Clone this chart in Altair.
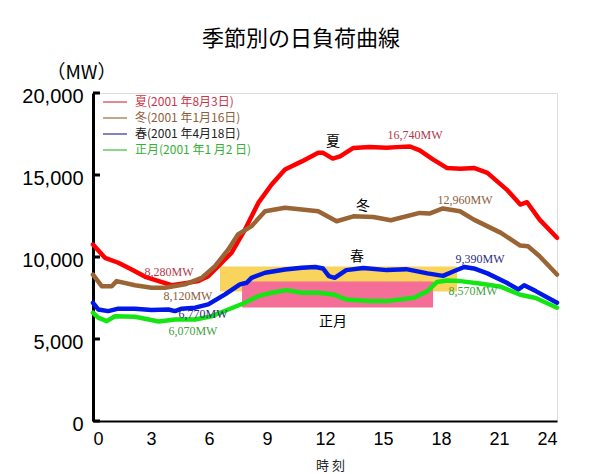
import altair as alt
import pandas as pd

# ---- data ----
summer_h = [0, 0.62, 1.31, 2.0, 2.7, 3.4, 4.07, 4.76, 5.45, 5.96, 6.48, 7.17, 7.86, 8.55, 9.24, 9.93,
            10.8, 11.65, 11.9, 12.4, 12.78, 13.47, 14.3, 15.2, 15.7, 16.4, 16.9, 17.6, 18.3, 19.0, 19.7,
            20.4, 21.4, 22.1, 22.45, 23.1, 24]
summer_mw = [10760, 9950, 9650, 9240, 8790, 8530, 8280, 8400, 8530, 8830, 9440, 10260, 11670, 13300, 14420, 15330,
             15830, 16350, 16350, 16000, 16140, 16650, 16700, 16660, 16700, 16740, 16500, 15940, 15430, 15380, 15430,
             15130, 14110, 13200, 13340, 12280, 11170]

winter_h = [0, 0.45, 0.97, 1.22, 2.17, 3.03, 3.72, 4.76, 5.62, 6.31, 7.0, 7.5, 8.2, 8.9, 9.93, 10.8,
            11.65, 12.1, 12.6, 13.47, 14.5, 15.4, 16.9, 17.4, 18.1, 18.98, 19.7, 21.1, 22.1, 22.5, 23.1, 24]
winter_mw = [8930, 8220, 8220, 8530, 8280, 8120, 8120, 8330, 8730, 9440, 10460, 11370, 11880, 12790, 13000, 12890,
             12790, 12500, 12180, 12480, 12440, 12240, 12690, 12650, 12960, 12790, 12280, 11470, 10700, 10660, 10050, 8930]

spring_h = [0, 0.27, 0.79, 1.31, 2.17, 3.03, 3.9, 4.24, 4.59, 5.28, 5.96, 6.83, 7.6, 7.95, 8.2, 8.9, 9.93,
            10.8, 11.5, 11.9, 12.2, 12.5, 13.1, 13.98, 15.2, 16.2, 17.3, 18.1, 18.6, 19.2, 19.7, 20.4,
            21.4, 22.0, 22.3, 22.9, 24]
spring_mw = [7210, 6800, 6700, 6850, 6850, 6770, 6800, 6700, 6850, 6910, 7110, 7720, 8330, 8430, 8730, 9040, 9240,
             9340, 9390, 9300, 8830, 8730, 9200, 9330, 9200, 9260, 9000, 8850, 9100, 9390, 9300, 9000,
             8430, 8020, 8280, 7920, 7210]

newyear_h = [0, 0.27, 0.71, 1.14, 2.17, 3.4, 4.24, 5.28, 6.14, 7.0, 7.86, 8.55, 9.24, 10.0, 10.8, 11.65,
             12.43, 13.1, 14.3, 15.2, 16.6, 17.3, 17.8, 18.3, 19.0, 20.0, 21.1, 22.1, 22.9, 24]
newyear_mw = [6600, 6300, 6090, 6390, 6360, 6070, 6190, 6190, 6390, 6800, 7210, 7610, 7820, 7980, 7820, 7820,
              7720, 7410, 7310, 7310, 7510, 7920, 8480, 8570, 8530, 8380, 8180, 7700, 7500, 6910]

season_keys = ["夏", "冬", "春", "正月"]
legend_labels = ["夏(2001 年8月3日)", "冬(2001 年1月16日)", "春(2001 年4月18日)", "正月(2001 年1 月2 日)"]
line_colors = ["#FF0000", "#9A6434", "#0018E8", "#14E614"]
legend_line_colors = ["#D03A4A", "#9A6A40", "#30309A", "#3CC03C"]
legend_text_colors = ["#C8364A", "#8E5E3A", "#222222", "#34B034"]

# band rectangles (hours, MW)
band_x = [6.57, 7.71]
band_x2 = [18.83, 17.59]
band_y = [7900, 6920]
band_y2 = [9420, 8510]
band_colors = ["#F8D45C", "#F46E98"]

# value annotations
ann_text = ["8,280MW", "8,120MW", "6,770MW", "6,070MW", "16,740MW", "12,960MW", "9,390MW", "8,570MW"]
ann_h = [3.93, 4.91, 5.69, 5.17, 16.66, 19.24, 20.02, 19.66]
ann_mw = [9055, 7594, 6498, 5463, 17460, 13500, 9850, 7900]
ann_colors = ["#B03A4C", "#8A6040", "#2E2E80", "#3FA03F", "#B03A4C", "#8A6040", "#2E2E80", "#3FA03F"]

season_label = ["夏", "冬", "春", "正月"]
season_label_h = [12.42, 13.97, 13.66, 12.42]
season_label_mw = [17030, 13080, 9970, 6010]

y_ticks = [0, 5000, 10000, 15000, 20000]
x_ticks = [0, 3, 6, 9, 12, 15, 18, 21, 24]

# ---- build tables ----
rows = []
for key, hs, vs in zip(season_keys, [summer_h, winter_h, spring_h, newyear_h],
                       [summer_mw, winter_mw, spring_mw, newyear_mw]):
    for h, v in zip(hs, vs):
        rows.append({"season": key, "hour": h, "mw": v})
lines_df = pd.DataFrame(rows)

bands_df = pd.DataFrame({"x": band_x, "x2": band_x2, "y": band_y, "y2": band_y2, "c": band_colors})
ann_df = pd.DataFrame({"t": ann_text, "h": ann_h, "mw": ann_mw, "c": ann_colors})
lab_df = pd.DataFrame({"t": season_label, "h": season_label_h, "mw": season_label_mw})
tick_df = pd.DataFrame({"y": y_ticks, "x": [0] * len(y_ticks), "x2": [0.36] * len(y_ticks)})

x_scale = alt.Scale(domain=[0, 24], nice=False, zero=False)
y_scale = alt.Scale(domain=[0, 20000], nice=False)

x_axis = alt.Axis(values=x_ticks, ticks=False, grid=False, domainColor="black", domainWidth=2,
                  labelFontSize=18, labelFont="Liberation Sans", labelColor="black", labelPadding=9,
                  title="時 刻", titleFont="Noto Sans CJK JP", titleFontSize=13, titleFontWeight="normal",
                  titleColor="#222", titleX=237, titleY=44, titleBaseline="middle")
y_axis = alt.Axis(values=y_ticks, ticks=False, grid=False, domainColor="black", domainWidth=3,
                  labelExpr="datum.value == 0 ? '0' : floor(datum.value / 1000) + ',000'",
                  labelFontSize=20, labelFont="Liberation Sans", labelColor="black", labelPadding=10,
                  labelOffset=3,
                  title="（MW）", titleAngle=0, titleX=-12, titleY=-21, titleAlign="center",
                  titleBaseline="middle", titleFont="Noto Sans CJK JP", titleFontSize=19,
                  titleFontWeight="normal", titleColor="black")

bx = lambda f: alt.X(f, scale=x_scale, axis=x_axis)
by = lambda f: alt.Y(f, scale=y_scale, axis=y_axis)

bands = alt.Chart(bands_df).mark_rect().encode(
    x=bx("x:Q"), x2="x2:Q", y=by("y:Q"), y2="y2:Q",
    fill=alt.Fill("c:N", scale=None),
)

lines = alt.Chart(lines_df).mark_line(strokeWidth=4.5, strokeJoin="round", strokeCap="round").encode(
    x=bx("hour:Q"), y=by("mw:Q"),
    color=alt.Color("season:N", scale=alt.Scale(domain=season_keys, range=line_colors), legend=None),
    order=alt.Order("hour:Q"),
)

ticks = alt.Chart(tick_df).mark_rule(color="black", strokeWidth=3).encode(
    x=bx("x:Q"), x2="x2:Q", y=by("y:Q")
)

anns = alt.Chart(ann_df).mark_text(font="Liberation Serif", fontSize=12).encode(
    x=bx("h:Q"), y=by("mw:Q"), text="t:N",
    fill=alt.Fill("c:N", scale=None),
)

labs = alt.Chart(lab_df).mark_text(font="Noto Sans CJK JP", fontSize=14, color="black").encode(
    x=bx("h:Q"), y=by("mw:Q"), text="t:N",
)

one = pd.DataFrame({"a": [0]})
legend_layers = []
for i, (lab, lc, tc) in enumerate(zip(legend_labels, legend_line_colors, legend_text_colors)):
    yy = 9 + 16 * i
    legend_layers.append(
        alt.Chart(one).mark_rule(color=lc, strokeWidth=1.2).encode(
            x=alt.value(10), x2=alt.value(34), y=alt.value(yy))
    )
    legend_layers.append(
        alt.Chart(one).mark_text(align="left", baseline="middle", font="Noto Sans CJK JP",
                                 fontSize=12, color=tc, text=lab).encode(
            x=alt.value(42), y=alt.value(yy))
    )

chart = alt.layer(bands, lines, ticks, anns, labs, *legend_layers).properties(
    width=464, height=328,
    title=alt.Title("季節別の日負荷曲線", font="Noto Sans CJK JP", fontSize=22, fontWeight="normal",
                    color="black", anchor="middle", frame="group", dx=-24, offset=12),
    autosize=alt.AutoSizeParams(type="none"),
    padding={"left": 85, "top": 85, "right": 35, "bottom": 60},
).configure_view(stroke=None).configure(background="white")

chart.save("out.html", embed_options={"renderer": "svg", "actions": False})
